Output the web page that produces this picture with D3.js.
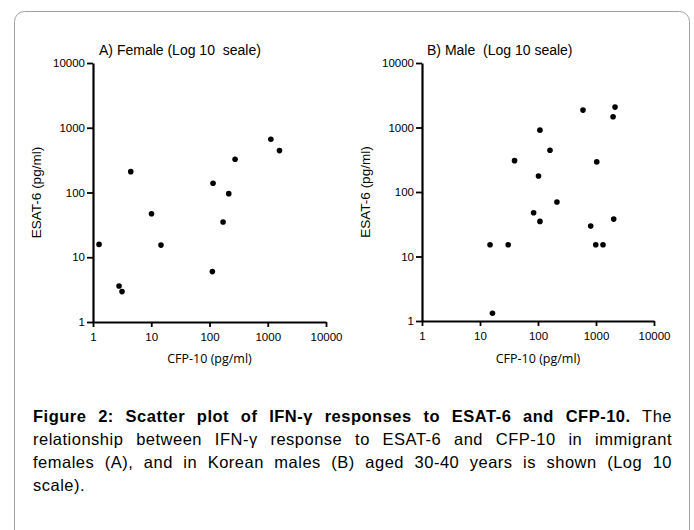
<!DOCTYPE html>
<html>
<head>
<meta charset="utf-8">
<script src="https://cdn.jsdelivr.net/npm/d3@7/dist/d3.min.js"></script>
<style>
  body { margin: 0; background: #fff; }
  svg { display: block; }
</style>
</head>
<body>
<svg width="694" height="530"></svg>
<script>
// values (pg/ml)
var femaleCFP  = [1.27, 2.8, 3.15, 4.45, 10.1, 14.7, 112, 115, 171, 214, 275, 1130, 1590];
var femaleESAT = [15.8, 3.6, 2.95, 210, 47, 15.4, 6.0, 139, 35, 96, 326, 666, 444];

var maleCFP  = [14.9, 16.4, 30.6, 39.4, 84, 102, 108, 108, 161, 212, 597, 810, 1030, 990, 1320, 1970, 2130, 2020];
var maleESAT = [15.2, 1.32, 15.2, 306, 47.7, 177, 909, 35, 445, 70, 1860, 29.6, 293, 15.2, 15.2, 1465, 2070, 38];

var tickVals = [1, 10, 100, 1000, 10000];
var titles = ["A) Female (Log 10  seale)", "B) Male  (Log 10 seale)"];

var captionLines = [
  [["Figure 2: Scatter plot of IFN-\u03b3 responses to ESAT-6 and CFP-10.", true], [" The", false]],
  [["relationship between IFN-\u03b3 response to ESAT-6 and CFP-10 in immigrant", false]],
  [["females (A), and in Korean males (B) aged 30-40 years is shown (Log 10", false]],
  [["scale).", false]]
];

var svg = d3.select('svg');

svg.append('rect')
  .attr('width', 694).attr('height', 530).attr('fill', '#fff');

// outer frame
svg.append('rect')
  .attr('x', 14.5).attr('y', 11.5)
  .attr('width', 675).attr('height', 560)
  .attr('rx', 10)
  .attr('fill', 'none')
  .attr('stroke', '#a0a0a0')
  .attr('stroke-width', 1);

function drawPanel(xs, ys, left, right, top, bottom, title, titleX) {
  var x = d3.scaleLog().domain([1, 10000]).range([left, right]);
  var y = d3.scaleLog().domain([1, 10000]).range([bottom, top]);
  var g = svg.append('g');

  var ya = g.append('g')
    .attr('transform', 'translate(' + left + ',0)')
    .call(d3.axisLeft(y).tickValues(tickVals).tickFormat(d3.format('d'))
      .tickSize(6).tickSizeOuter(0).tickPadding(2));

  var xa = g.append('g')
    .attr('transform', 'translate(0,' + bottom + ')')
    .call(d3.axisBottom(x).tickValues(tickVals).tickFormat(d3.format('d'))
      .tickSize(5).tickSizeOuter(0).tickPadding(6));

  [ya, xa].forEach(function(a) {
    a.attr('font-family', null).attr('font-size', null);
    a.select('.domain').attr('stroke', '#000').attr('stroke-width', 2.2);
    a.selectAll('.tick line').attr('stroke', '#000').attr('stroke-width', 1.8);
    a.selectAll('.tick text')
      .attr('fill', '#000')
      .style('font-family', '"Liberation Sans", Arial, sans-serif')
      .style('font-size', '11.5px');
  });

  g.selectAll('circle.pt')
    .data(xs)
    .enter()
    .append('circle')
    .attr('class', 'pt')
    .attr('cx', function(d) { return x(d); })
    .attr('cy', function(d, i) { return y(ys[i]); })
    .attr('r', 2.8)
    .attr('fill', '#000');

  g.append('text')
    .text(title)
    .attr('x', titleX).attr('y', 55)
    .style('white-space', 'pre')
    .style('font-family', '"Liberation Sans", Arial, sans-serif')
    .style('font-size', '14px');

  g.append('text')
    .text('CFP-10 (pg/ml)')
    .attr('x', (left + right) / 2).attr('y', 363)
    .style('text-anchor', 'middle')
    .style('font-family', '"Open Sans", sans-serif')
    .style('font-size', '12.5px');

  g.append('text')
    .text('ESAT-6 (pg/ml)')
    .attr('transform', 'translate(' + (left - 52) + ',' + ((top + bottom) / 2) + ') rotate(-90)')
    .style('text-anchor', 'middle')
    .style('font-family', '"Liberation Sans", Arial, sans-serif')
    .style('font-size', '13.5px');
}

drawPanel(femaleCFP, femaleESAT, 93, 326, 63, 322, titles[0], 99);
drawPanel(maleCFP, maleESAT, 422, 654, 63, 321, titles[1], 427);

// caption, justified by word spacing
var capWidth = 639;
var cap = svg.append('g')
  .style('font-family', '"Liberation Sans", Arial, sans-serif')
  .style('font-size', '16.5px')
  .style('letter-spacing', '0.5px');

captionLines.forEach(function(parts, i) {
  var t = cap.append('text')
    .attr('x', 33).attr('y', 422 + i * 23);
  parts.forEach(function(p) {
    t.append('tspan')
      .text(p[0])
      .style('font-weight', p[1] ? 'bold' : 'normal');
  });
  if (i < captionLines.length - 1) {
    var full = parts.map(function(p) { return p[0]; }).join('');
    var gaps = full.split(' ').length - 1;
    var w = t.node().getComputedTextLength();
    var ws = Math.max(0, (capWidth - w) / gaps);
    t.style('word-spacing', ws + 'px');
  }
});
</script>
</body>
</html>
